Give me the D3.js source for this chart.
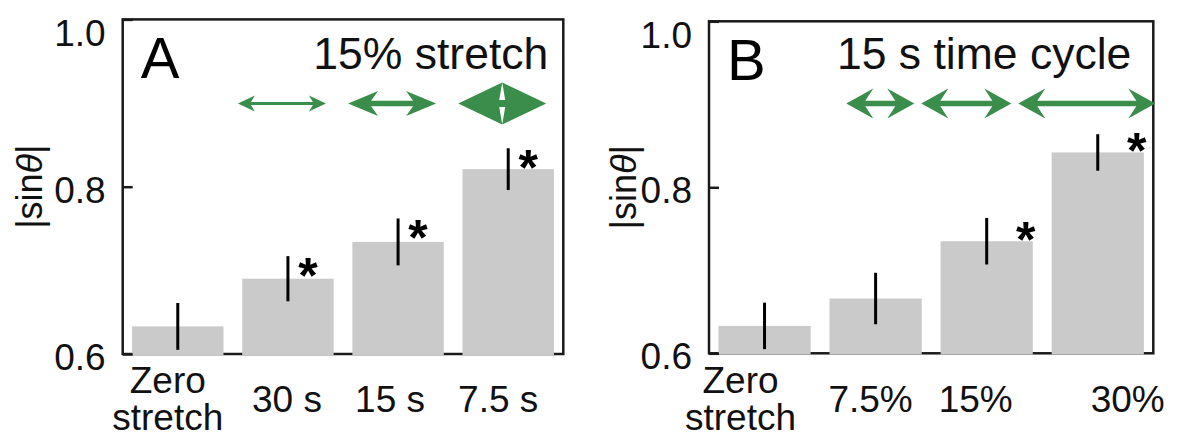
<!DOCTYPE html>
<html>
<head>
<meta charset="utf-8">
<script src="https://cdn.jsdelivr.net/npm/d3@7"></script>
<style>
body { margin: 0; background: #fff; }
svg { display: block; font-family: "Liberation Sans", Arial, Helvetica, sans-serif; }
</style>
</head>
<body>
<svg id="chart" width="1179" height="437"></svg>
<script>
// Panel A: 15% stretch at different cycle times
categoriesA = [["Zero", "stretch"], ["30 s"], ["15 s"], ["7.5 s"]]
valuesA = [0.633, 0.690, 0.734, 0.821]
errorsA = [0.028, 0.027, 0.028, 0.025]
significantA = [false, true, true, true]

// Panel B: 15 s cycle at different stretch amplitudes
categoriesB = [["Zero", "stretch"], ["7.5%"], ["15%"], ["30%"]]
valuesB = [0.633, 0.666, 0.735, 0.842]
errorsB = [0.028, 0.031, 0.028, 0.022]
significantB = [false, false, true, true]

yDomain = [0.6, 1.0]
yTicks = [0.6, 0.8, 1.0]

// green double arrow glyphs (one per stretched condition)
arrowGlyphsA = [
    { len: 88, head: 17, half: 8, shaft: 1.6, sweep: 4 },
    { len: 88, head: 30, half: 12.5, shaft: 2.8, sweep: 7 },
    { len: 88, head: 44, half: 21, shaft: 3.5, sweep: 3 }
]
arrowGlyphsB = [
    { len: 68, head: 27, half: 15, shaft: 2.8, sweep: 8 },
    { len: 90, head: 27, half: 15, shaft: 2.8, sweep: 8 },
    { len: 137, head: 27, half: 15, shaft: 2.8, sweep: 8 }
]

var svg = d3.select("#chart")

var GREEN = "#3b8d4b"
var BAR = "#cacaca"
var INK = "#1a1a1a"

function arrowPath(a) {
    const L = a.len, h = a.head, H = a.half, t = a.shaft, s = a.sweep
    const pts = [
        [0, 0], [h, -H], [h - s, -t], [L - h + s, -t], [L - h, -H],
        [L, 0], [L - h, H], [L - h + s, t], [h - s, t], [h, H]
    ]
    return "M" + pts.map(p => p.join(",")).join("L") + "Z"
}

function drawPanel(p) {

    var g = svg.append("g")

    var keys = p.categories.map(c => c.join(" "))

    var x = d3.scaleBand()
        .domain(keys)
        .range([p.left, p.right])
        .paddingInner(0.17)
        .paddingOuter(0.085)

    var y = d3.scaleLinear()
        .domain(yDomain)
        .range([p.bottom, p.top])

    // frame
    g.append("rect")
        .attr("x", p.left)
        .attr("y", p.top)
        .attr("width", p.right - p.left)
        .attr("height", p.bottom - p.top)
        .attr("fill", "none")
        .attr("stroke", INK)
        .attr("stroke-width", 2.5)

    // bars (drawn over the bottom frame line)
    g.selectAll(".bar")
        .data(p.values)
        .join("rect")
        .attr("class", "bar")
        .attr("x", (d, i) => x(keys[i]))
        .attr("y", d => y(d))
        .attr("width", x.bandwidth())
        .attr("height", d => y(yDomain[0]) - y(d) + 1.2)
        .attr("fill", BAR)

    // error bars
    g.selectAll(".err")
        .data(p.values)
        .join("line")
        .attr("class", "err")
        .attr("x1", (d, i) => x(keys[i]) + x.bandwidth() / 2)
        .attr("x2", (d, i) => x(keys[i]) + x.bandwidth() / 2)
        .attr("y1", (d, i) => y(d + p.errors[i]))
        .attr("y2", (d, i) => y(d - p.errors[i]))
        .attr("stroke", "#000")
        .attr("stroke-width", 3)

    // significance stars
    var starSize = 50
    p.values.forEach(function(v, i) {
        if (!p.significant[i]) return
        var cx = x(keys[i]) + x.bandwidth() / 2 + p.starDx
        var cy = p.starFromBar ? y(v) + p.starDy : y(v + p.errors[i]) + p.starDy
        g.append("text")
            .attr("x", cx)
            .attr("y", cy + starSize * 0.58)
            .attr("text-anchor", "middle")
            .attr("font-size", starSize)
            .attr("font-weight", "bold")
            .attr("fill", "#000")
            .text("*")
    })

    // y axis (ticks inside)
    var yAxis = g.append("g")
        .attr("transform", `translate(${p.left},0)`)
        .call(d3.axisLeft(y)
            .tickValues(yTicks)
            .tickFormat(d3.format(".1f"))
            .tickSizeInner(-10)
            .tickSizeOuter(0)
            .tickPadding(17))
    yAxis.select(".domain").remove()
    yAxis.selectAll(".tick line").attr("stroke", INK).attr("stroke-width", 2.5)
    yAxis.selectAll(".tick text")
        .attr("font-size", 37)
        .attr("fill", "#111")
        .attr("dy", d => d === yDomain[1] ? "0.70em" : "0.42em")
    yAxis.attr("font-family", null).attr("font-size", null)

    // y axis title |sinθ|
    var yt = g.append("text")
        .attr("transform", `translate(${p.yTitleX},${(p.top + p.bottom) / 2}) rotate(-90)`)
        .attr("text-anchor", "middle")
        .attr("font-size", 36)
        .attr("fill", "#111")
    yt.append("tspan").text("|sin")
    yt.append("tspan").attr("font-style", "italic").text("θ")
    yt.append("tspan").text("|")

    // category labels
    p.categories.forEach(function(lines, i) {
        var t = g.append("text")
            .attr("text-anchor", "middle")
            .attr("font-size", 37)
            .attr("fill", "#111")
        var cx = x(keys[i]) + x.bandwidth() / 2 + p.labelDx[i]
        lines.forEach(function(line, j) {
            t.append("tspan")
                .attr("x", cx)
                .attr("y", 411.5 - (lines.length - 1) * 18.5 + j * 37)
                .text(line)
        })
    })

    // panel letter and condition title
    g.append("text")
        .attr("x", p.left + 18)
        .attr("y", p.top + 59)
        .attr("font-size", 58)
        .attr("fill", "#000")
        .text(p.letter)

    g.append("text")
        .attr("x", p.right - p.titleInset)
        .attr("y", 69)
        .attr("text-anchor", "end")
        .attr("font-size", 44.5)
        .attr("fill", "#111")
        .text(p.title)

    // green double arrows over the stretched conditions
    var ay = 103.5
    if (p.arrowChain) {
        var total = d3.sum(p.arrows, a => a.len) + (p.arrows.length - 1) * 7
        var ax = p.right + 2 - total
        p.arrows.forEach(function(a) {
            g.append("path")
                .attr("d", arrowPath(a))
                .attr("transform", `translate(${ax},${ay})`)
                .attr("fill", GREEN)
            ax += a.len + 7
        })
    } else {
        p.arrows.forEach(function(a, i) {
            var cx = x(keys[i + 1]) + x.bandwidth() / 2 - 6
            g.append("path")
                .attr("d", arrowPath(a))
                .attr("transform", `translate(${cx - a.len / 2},${ay})`)
                .attr("fill", GREEN)
        })
    }
}

drawPanel({
    categories: categoriesA, values: valuesA, errors: errorsA, significant: significantA,
    left: 122.7, right: 563.3, top: 19.4, bottom: 354,
    yTitleX: 42, letter: "A", title: "15% stretch", titleInset: 15,
    starDx: 20, starDy: 7.5, starFromBar: false,
    labelDx: [-10, -1, -8, -10],
    arrows: arrowGlyphsA, arrowChain: false
})

drawPanel({
    categories: categoriesB, values: valuesB, errors: errorsB, significant: significantB,
    left: 709, right: 1153.3, top: 21.3, bottom: 353.3,
    yTitleX: 636, letter: "B", title: "15 s time cycle", titleInset: 22,
    starDx: 39, starDy: -13, starFromBar: true,
    labelDx: [-24, -5, -11, 30],
    arrows: arrowGlyphsB, arrowChain: true
})
</script>
</body>
</html>
